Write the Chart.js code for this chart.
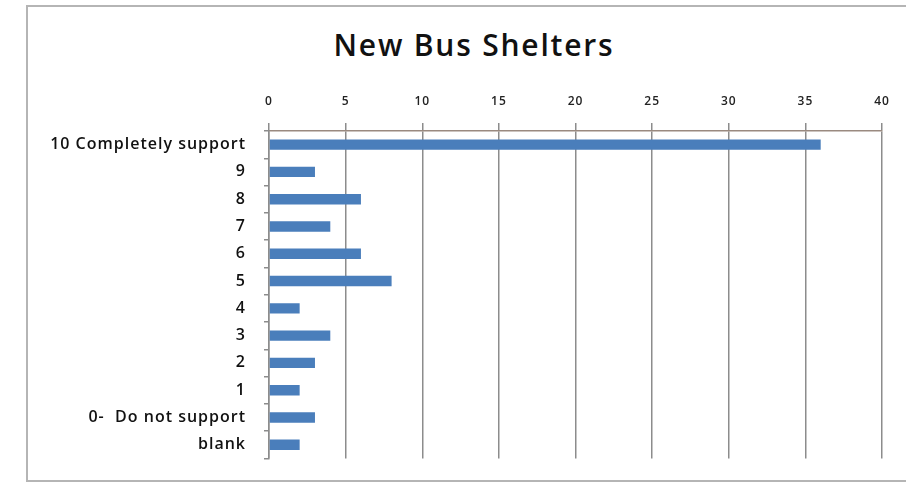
<!DOCTYPE html>
<html><head><meta charset="utf-8">
<script src="https://cdn.jsdelivr.net/npm/chart.js@4/dist/chart.umd.min.js"></script>
<style>
html,body{margin:0;padding:0;background:#fff;}
#wrap{position:relative;width:906px;height:486px;overflow:hidden;}
#frame{position:absolute;left:26px;top:5px;width:900px;height:477px;border:2px solid #b5b5b5;box-sizing:border-box;}
#title{position:absolute;left:0;width:948px;top:27px;text-align:center;font-family:"Open Sans",Lato,sans-serif;font-weight:600;font-size:30px;letter-spacing:1.8px;color:#111;line-height:36px;}
canvas{position:absolute;left:0;top:0;}
</style></head>
<body>
<div id="wrap">
<div id="frame"></div>
<div id="title">New Bus Shelters</div>
<canvas id="c" width="906" height="486"></canvas>
</div>
<script>
const categories = ["10 Completely support","9","8","7","6","5","4","3","2","1","0-  Do not support","blank"];
const responses = [36, 3, 6, 4, 6, 8, 2, 4, 3, 2, 3, 2];
const xTicks = [0,5,10,15,20,25,30,35,40];

const fontFam = '"Open Sans", Lato, sans-serif';
const spacing = {
  id: 'spacing',
  beforeDraw(chart) { try { chart.ctx.letterSpacing = '1px'; } catch (e) {} },
  afterDraw(chart) { try { chart.ctx.letterSpacing = '0px'; } catch (e) {} }
};
new Chart(document.getElementById('c'), {
  type: 'bar',
  plugins: [spacing],
  data: {
    labels: categories,
    datasets: [{
      data: responses,
      backgroundColor: '#4a7ebb',
      borderWidth: 0,
      categoryPercentage: 1,
      barPercentage: 0.38
    }]
  },
  options: {
    indexAxis: 'y',
    responsive: false,
    animation: false,
    devicePixelRatio: 1,
    layout: { padding: { top: 0, right: 24, bottom: 25, left: 0 } },
    plugins: { legend: { display: false }, title: { display: false }, tooltip: { enabled: false } },
    scales: {
      x: {
        position: 'top',
        min: 0, max: 40,
        afterBuildTicks: s => { s.ticks = xTicks.map(v => ({ value: v })); },
        afterFit: s => { s.height = 131; },
        ticks: { color: '#222', font: { family: fontFam, size: 12, weight: '600' }, padding: 14 },
        grid: { color: '#8c8c8c', lineWidth: 1.5, tickLength: 8 },
        border: { color: '#9a8a80', width: 1.5 }
      },
      y: {
        afterFit: s => { s.width = 269; },
        ticks: { color: '#111', font: { family: fontFam, size: 16, weight: '600' }, padding: 18, autoSkip: false },
        grid: { drawOnChartArea: false, drawTicks: true, tickLength: 5, color: '#8c8c8c', lineWidth: 1.5, offset: true },
        border: { color: '#8c8c8c', width: 1.5 }
      }
    }
  }
});
</script>
</body></html>
